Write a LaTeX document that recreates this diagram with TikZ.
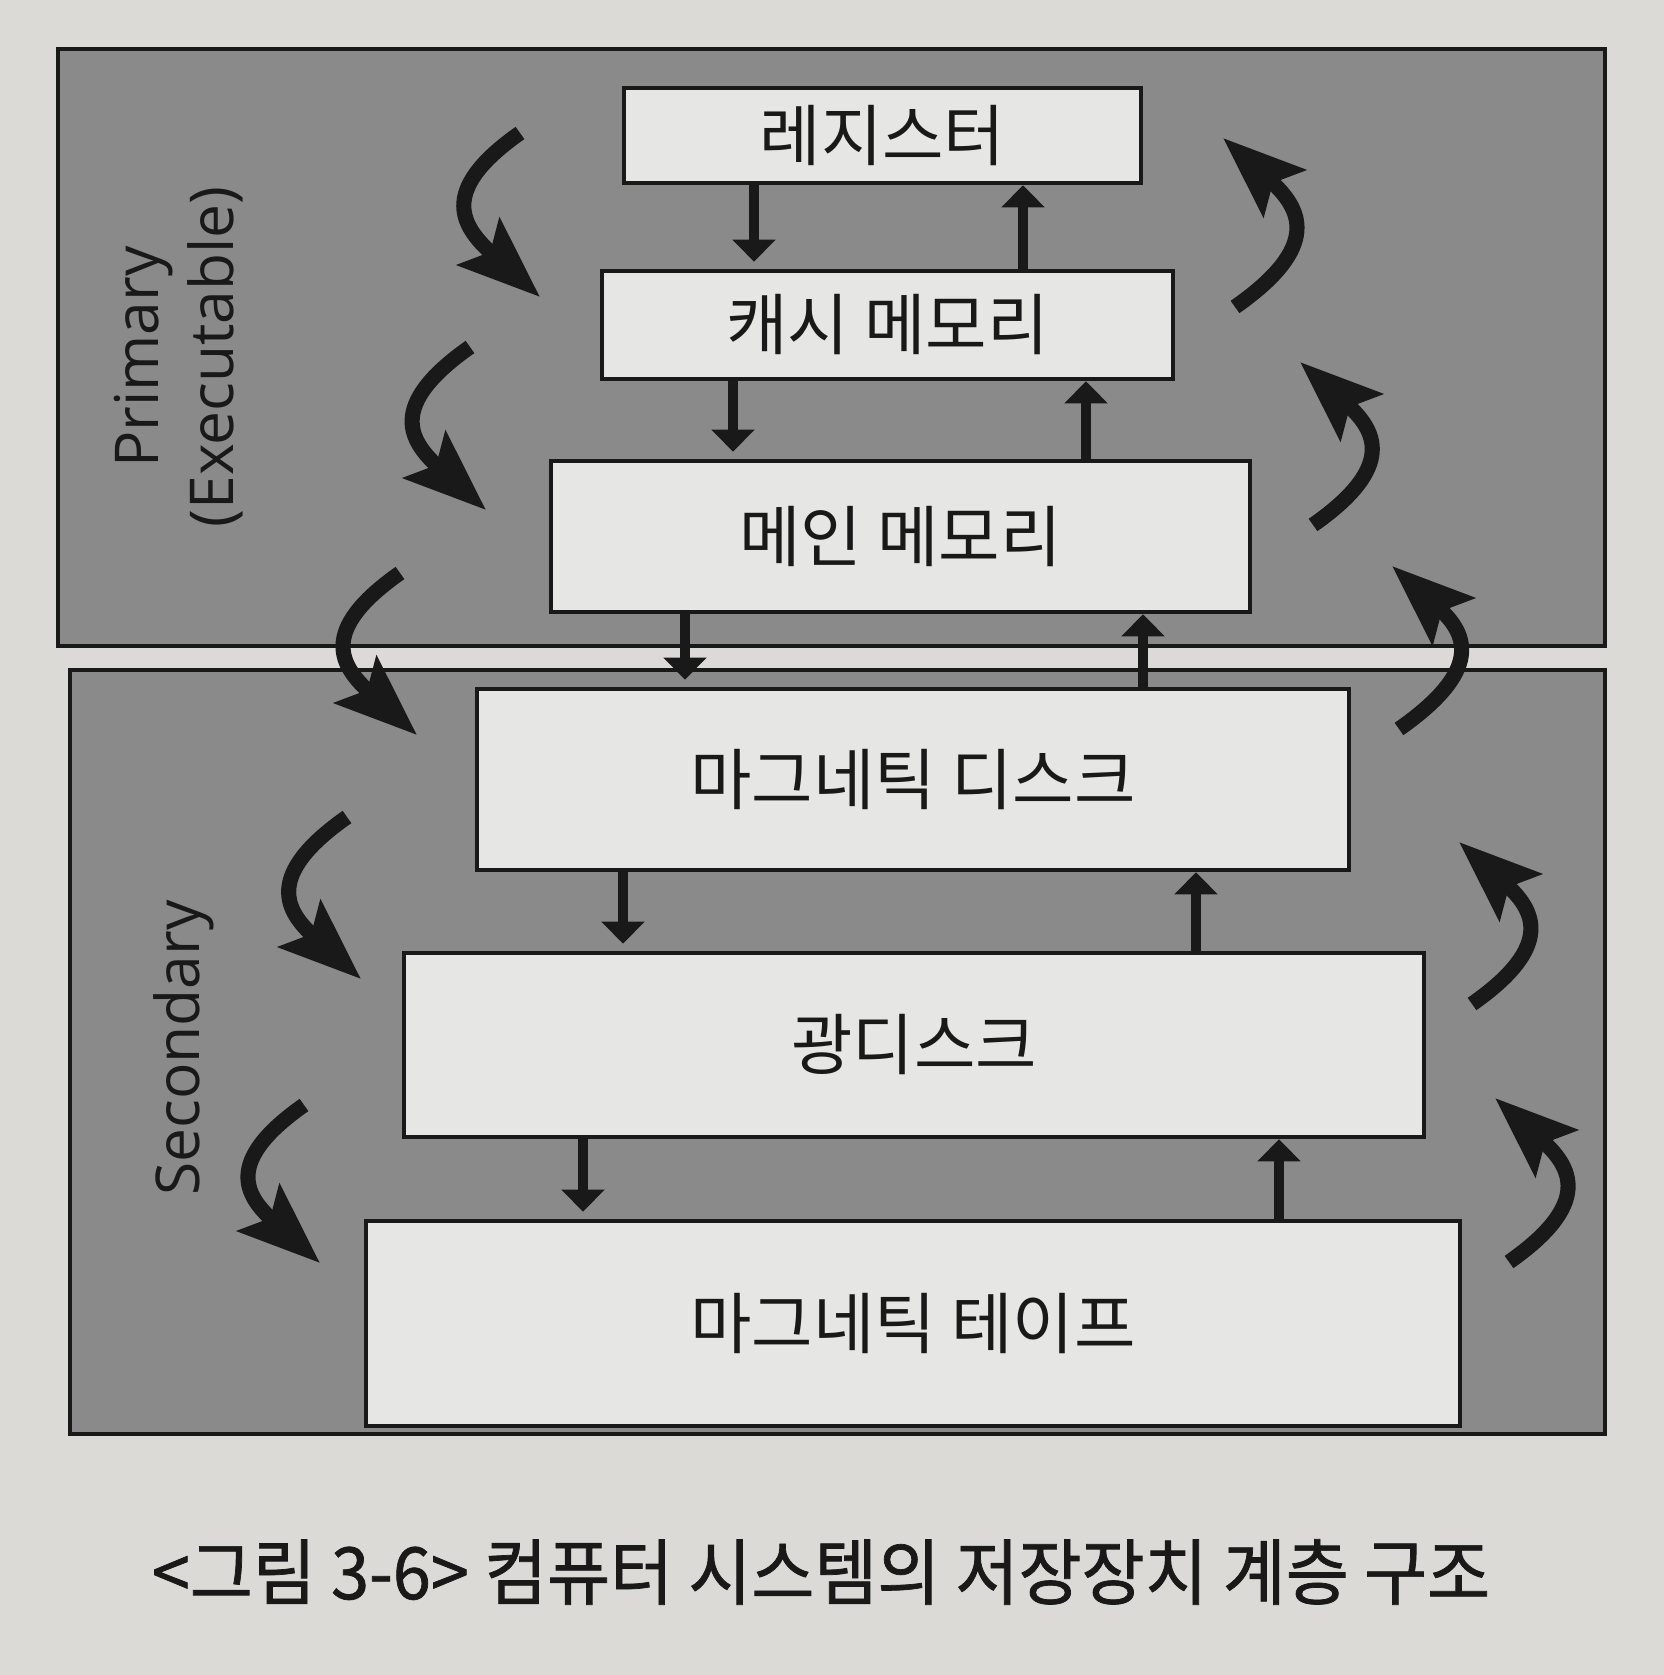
\documentclass[tikz,border=0pt]{standalone}
\usepackage{fontspec}
\setmainfont{Noto Sans CJK KR}
\newfontfamily\latfont{Open Sans}
\newfontfamily\capfont[FakeStretch=0.95,FakeBold=1]{Noto Sans CJK KR}
\usetikzlibrary{arrows.meta}
\definecolor{paper}{RGB}{220,218,214}
\definecolor{panelgray}{RGB}{138,138,138}
\definecolor{boxfill}{RGB}{230,230,228}
\definecolor{ink}{RGB}{25,25,25}

\begin{document}
\begin{tikzpicture}[
    panel/.style={draw=ink,line width=1pt,fill=panelgray},
    level/.style={draw=ink,line width=1.3pt,fill=boxfill,text=ink,font=\fontsize{19}{23}\selectfont},
    side/.style={rotate=90,align=center,text=ink,font=\latfont\fontsize{17.2}{21.3}\selectfont},
    flow/.style={-{Triangle[length=2.2mm,width=4.2mm]},line width=3pt,draw=ink},
    swirl/.style={-{Stealth[length=8.2mm,width=6.2mm,inset=1.5mm]},line width=4.3pt,draw=ink,looseness=1.6}]
  \useasboundingbox[fill=paper] (0,0) rectangle (16.64,-16.75);
  % panels
  \draw[panel] (0.58,-0.49) rectangle (16.05,-6.46);
  \draw[panel] (0.70,-6.70) rectangle (16.05,-14.34);
  \node[side] (prim) at (1.79,-3.57) {Primary\\(Executable)};
  \node[side] (sec) at (1.84,-10.48) {Secondary};
  % levels of the hierarchy
  \node[level,minimum width=5.17cm,minimum height=0.95cm] (reg) at (8.825,-1.355) {레지스터};
  \node[level,minimum width=5.71cm,minimum height=1.08cm] (cache) at (8.875,-3.25) {캐시 메모리};
  \node[level,minimum width=6.99cm,minimum height=1.51cm] (main) at (9.005,-5.365) {메인 메모리};
  \node[level,minimum width=8.72cm,minimum height=1.81cm] (mdisk) at (9.13,-7.795) {마그네틱 디스크};
  \node[level,minimum width=10.2cm,minimum height=1.84cm] (odisk) at (9.14,-10.45) {광디스크};
  \node[level,minimum width=10.94cm,minimum height=2.05cm] (tape) at (9.13,-13.235) {마그네틱 테이프};
  % down / up between levels
  \foreach \a/\b/\xd/\xu in {reg/cache/7.54/10.23, cache/main/7.33/10.86, main/mdisk/6.85/11.43,
                             mdisk/odisk/6.23/11.96, odisk/tape/5.83/12.79}{
    \draw[flow,shorten >=2pt] (\a.south -| \xd,0) -- (\b.north -| \xd,0);
    \draw[flow] (\b.north -| \xu,0) -- (\a.south -| \xu,0);
  }
  % curved arrows, left side going down
  \foreach \n/\tx/\ty/\hx/\hy in {1/5.20/-1.33/5.40/-2.97, 2/4.70/-3.47/4.86/-5.10, 3/4.00/-5.73/4.17/-7.35,
                                   4/3.47/-8.17/3.61/-9.79, 5/3.04/-11.05/3.20/-12.63}{
    \coordinate (lt\n) at (\tx,\ty);
    \coordinate (lh\n) at (\hx,\hy);
    \draw[swirl] (lt\n) to[out=215,in=138] (lh\n);
  }
  % curved arrows, right side going up
  \foreach \n/\tx/\ty/\hx/\hy in {1/12.35/-3.07/12.23/-1.38, 2/13.13/-5.25/13.00/-3.62, 3/13.99/-7.29/13.92/-5.66,
                                   4/14.72/-10.04/14.59/-8.42, 5/15.09/-12.62/14.95/-10.98}{
    \coordinate (rt\n) at (\tx,\ty);
    \coordinate (rh\n) at (\hx,\hy);
    \draw[swirl] (rt\n) to[out=35,in=-42] (rh\n);
  }
  % caption
  \node[text=ink,font=\capfont\fontsize{20.5}{24}\selectfont] (cap) at (8.21,-15.72)
        {<그림 3-6> 컴퓨터 시스템의 저장장치 계층 구조};
\end{tikzpicture}
\end{document}
